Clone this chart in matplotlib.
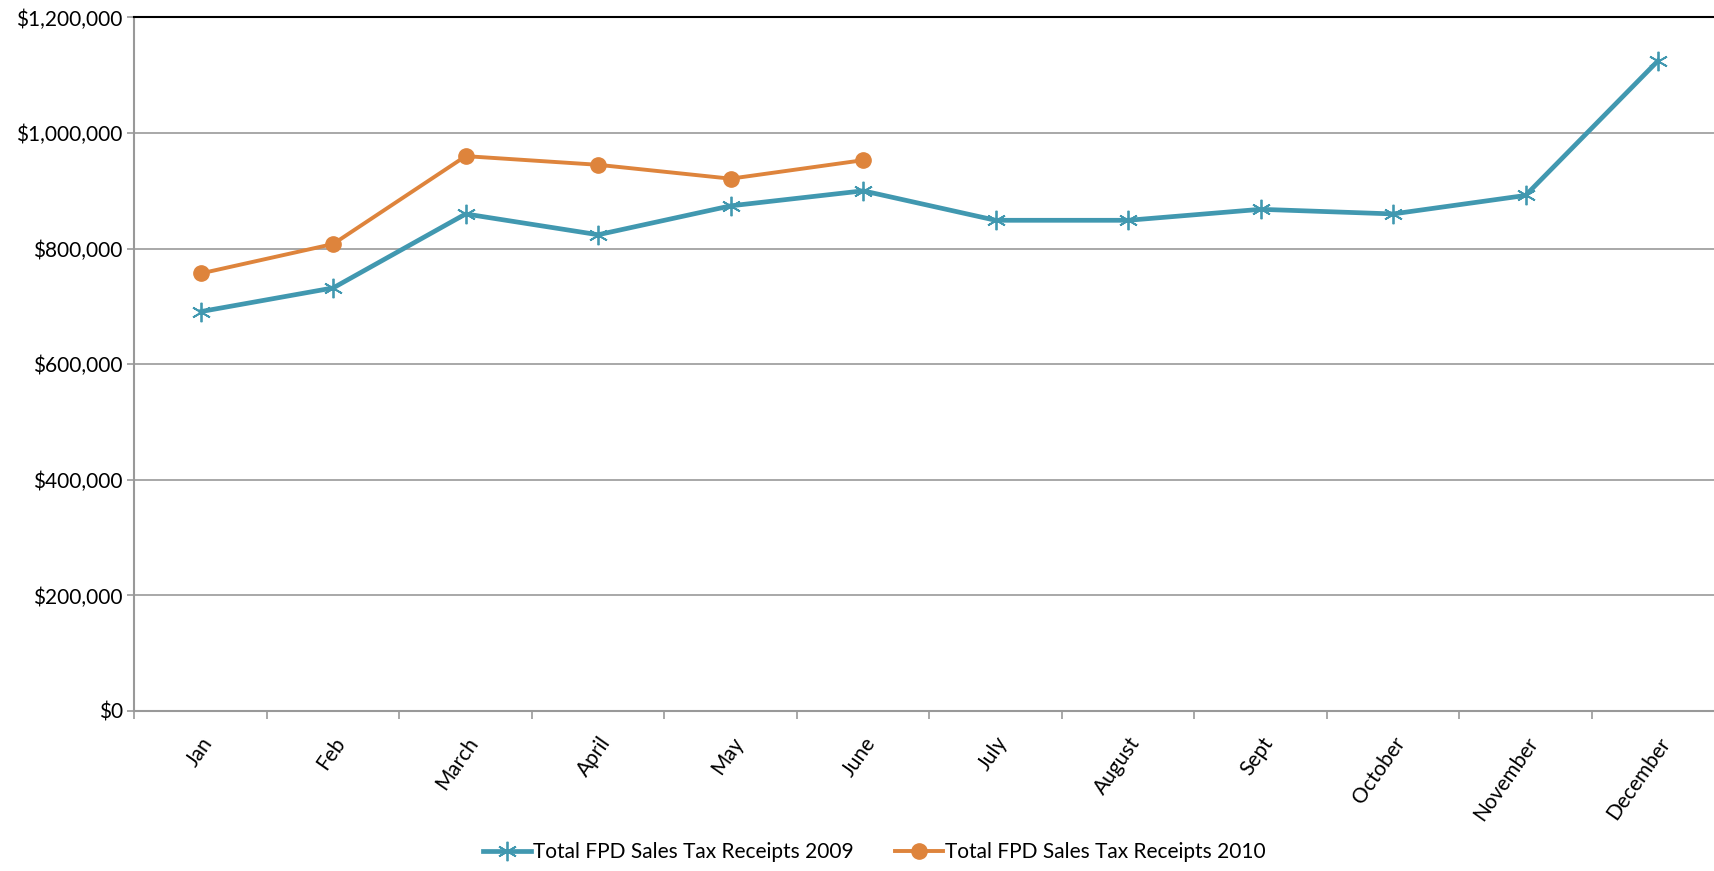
import matplotlib.pyplot as plt
from matplotlib.ticker import FuncFormatter, MultipleLocator

plt.rcParams['font.family'] = ['Lato', 'DejaVu Sans']

# Monthly data
months = ["Jan", "Feb", "March", "April", "May", "June", "July",
          "August", "Sept", "October", "November", "December"]
receipts_2009 = [691000, 732000, 860000, 824000, 874000, 900000, 849000,
                 849000, 868000, 860000, 892000, 1125000]
receipts_2010 = [757000, 808000, 960000, 945000, 921000, 953000]

BLUE = "#4198B0"
ORANGE = "#DE843C"

fig = plt.figure(figsize=(17.15, 8.71), dpi=100)
ax = fig.add_axes([0.0784, 0.1837, 0.927, 0.7963])

x09 = list(range(len(receipts_2009)))
x10 = list(range(len(receipts_2010)))
ax.plot(x09, receipts_2009, color=BLUE, lw=3.4, marker=(6, 2, 0),
        markersize=14, markeredgewidth=1.3, markeredgecolor=BLUE,
        label="Total FPD Sales Tax Receipts 2009", zorder=3)
ax.plot(x10, receipts_2010, color=ORANGE, lw=2.8, marker="o",
        markersize=11, markeredgecolor=ORANGE,
        label="Total FPD Sales Tax Receipts 2010", zorder=4)

ax.set_xlim(-0.5, len(months) - 0.5)
ax.set_ylim(0, 1200000)

# y axis
ax.yaxis.set_major_locator(MultipleLocator(200000))
ax.yaxis.set_major_formatter(FuncFormatter(lambda v, p: f"${v:,.0f}"))
ax.grid(axis="y", color="#999999", lw=1.2)
ax.set_axisbelow(True)

# x axis: labels at centres, tick marks between categories
ax.set_xticks(x09)
ax.set_xticklabels(months, rotation=55, ha="right", rotation_mode="anchor")
ax.set_xticks([i - 0.5 for i in range(len(months) + 1)], minor=True)
ax.tick_params(axis="x", which="major", length=0, pad=16, labelsize=15)
ax.tick_params(axis="x", which="minor", length=6, color="#999999", width=1.2)
ax.tick_params(axis="y", length=5, color="#999999", width=1.2, labelsize=15)

for s in ["left", "bottom"]:
    ax.spines[s].set_color("#999999")
    ax.spines[s].set_linewidth(1.5)
ax.spines["top"].set_color("black")
ax.spines["top"].set_linewidth(1.5)
ax.spines["right"].set_visible(False)

fig.legend(loc="center", bbox_to_anchor=(0.51, 0.022), ncol=2, frameon=False,
           fontsize=15, handlelength=2.3, handletextpad=0.1, columnspacing=2.0)

fig.savefig("out.png", dpi=100)
